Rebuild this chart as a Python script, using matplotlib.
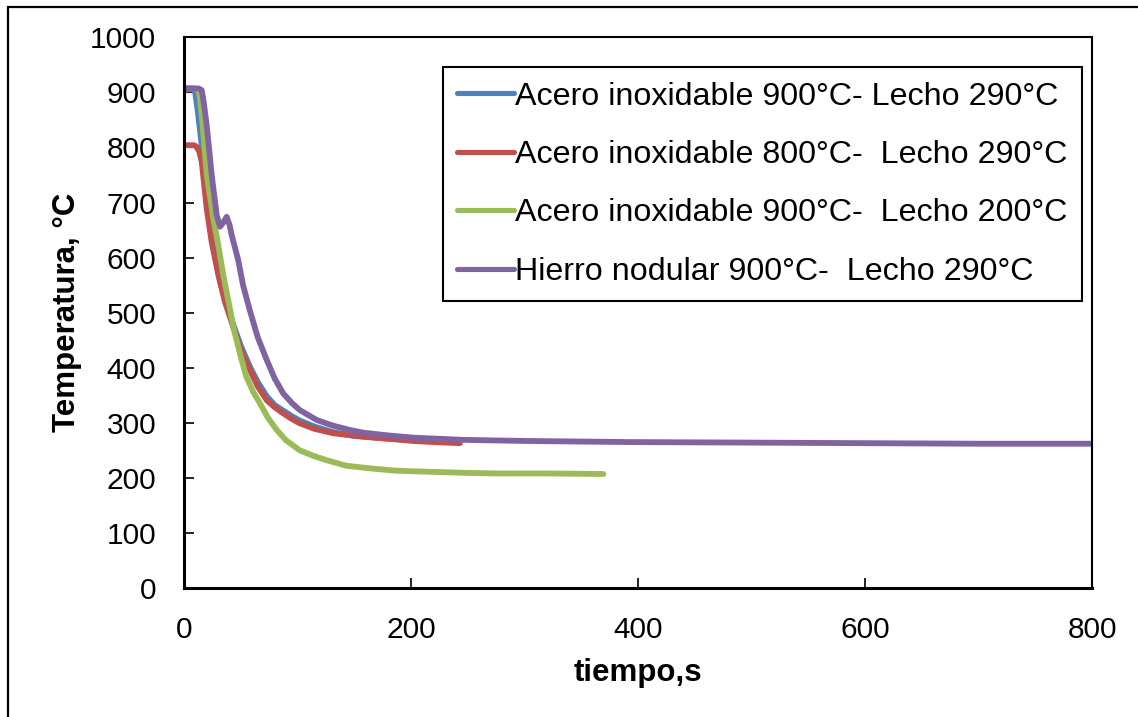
import matplotlib
matplotlib.use("Agg")
import matplotlib.pyplot as plt
from matplotlib.patches import Rectangle

plt.rcParams["font.family"] = ["Liberation Sans", "DejaVu Sans"]

# values (time in s, temperature in C)
t_blue = [0, 8, 9.7, 12.6, 15.6, 20, 24.4, 30.3, 36, 43.4, 50, 58, 65, 72.9,
          80, 87.5, 95, 102, 115, 131.5, 150, 175, 200, 220, 240]
T_blue = [907, 907, 903, 858, 804, 700, 635, 572, 525, 478, 440, 402, 374, 348,
          332, 322, 312, 304, 293, 283, 276, 272, 269, 268, 267]

t_red = [0, 9, 11.2, 13.5, 15.6, 20, 24.4, 30.3, 36, 43.4, 50, 58, 65, 72.9,
         80, 87.5, 95, 102, 115, 131.5, 158, 180, 202, 220, 243]
T_red = [804, 804, 801, 792, 774, 689, 628, 568, 520, 474, 432, 396, 366, 341,
         328, 317, 307, 299, 289, 281, 275, 271, 267, 265, 263]

t_green = [0, 10, 12.6, 14, 16.4, 20, 25.8, 30, 34.6, 40, 43.4, 50, 55, 61,
           67, 74, 81.7, 90, 102, 114, 125.7, 143, 165, 187, 217, 250, 275.5,
           320, 369.5]
T_green = [907, 907, 904, 890, 840, 750, 671, 625, 568, 512, 474, 420, 383, 356,
           335, 309, 287, 268, 250, 240, 232, 222, 217, 213, 211, 209, 208,
           208, 207]

t_purple = [0, 13, 15.6, 17.5, 20, 24.4, 28.8, 31.7, 34, 37.6, 40, 42, 47.8,
            52, 58, 65, 72.9, 80, 87.5, 95, 102, 117, 131, 146, 158, 180, 202,
            246, 300, 393, 500, 600, 700, 800]
T_purple = [907, 907, 904, 880, 840, 750, 677, 656, 662, 674, 660, 641, 595,
            550, 504, 455, 414, 380, 353, 336, 323, 305, 295, 287, 282, 277,
            273, 269, 267, 265, 264, 263, 262, 262]

labels = [
    "Acero inoxidable 900°C- Lecho 290°C",
    "Acero inoxidable 800°C-  Lecho 290°C",
    "Acero inoxidable 900°C-  Lecho 200°C",
    "Hierro nodular 900°C-  Lecho 290°C",
]
colors = ["#4F81BD", "#C0504D", "#9BBB59", "#8064A2"]

x_ticks = [0, 200, 400, 600, 800]
y_ticks = [0, 100, 200, 300, 400, 500, 600, 700, 800, 900, 1000]

fig = plt.figure(figsize=(11.38, 7.17), dpi=100)
ax = fig.add_axes([0.1617, 0.1799, 0.7979, 0.7681])

series = [(t_blue, T_blue), (t_red, T_red), (t_green, T_green), (t_purple, T_purple)]
for (t, T), lab, c in zip(series, labels, colors):
    ax.plot(t, T, color=c, linewidth=4.2, label=lab, solid_capstyle="round",
            solid_joinstyle="round")

ax.set_xlim(0, 800)
ax.set_ylim(0, 1000)
ax.set_xticks(x_ticks)
ax.set_yticks(y_ticks)
ax.tick_params(direction="in", length=7, width=1.2, labelsize=21.5, pad=20)
for sp in ax.spines.values():
    sp.set_linewidth(1.5)
    sp.set_color("black")
ax.spines["bottom"].set_linewidth(2.2)
ax.spines["left"].set_linewidth(2.2)

ax.set_xlabel("tiempo,s", fontsize=22.5, fontweight="bold", labelpad=10)
ax.set_ylabel("Temperatura, °C", fontsize=22.5, fontweight="bold", labelpad=6)

leg = ax.legend(loc="upper right", bbox_to_anchor=(0.989, 0.9456),
                borderaxespad=0, fontsize=23.2, fancybox=False,
                edgecolor="black", framealpha=1, handlelength=1.75,
                handletextpad=0.05, labelspacing=0.88, borderpad=0.45)
leg.get_frame().set_linewidth(1.5)
for line in leg.get_lines():
    line.set_linewidth(3.7)

# outer chart-area border (right/bottom sides fall off the picture)
fig.patches.append(Rectangle((0.0066, -0.05), 1.1, 1.04, transform=fig.transFigure,
                             fill=False, edgecolor="black", linewidth=1.6))

fig.savefig("out.png", dpi=100)
